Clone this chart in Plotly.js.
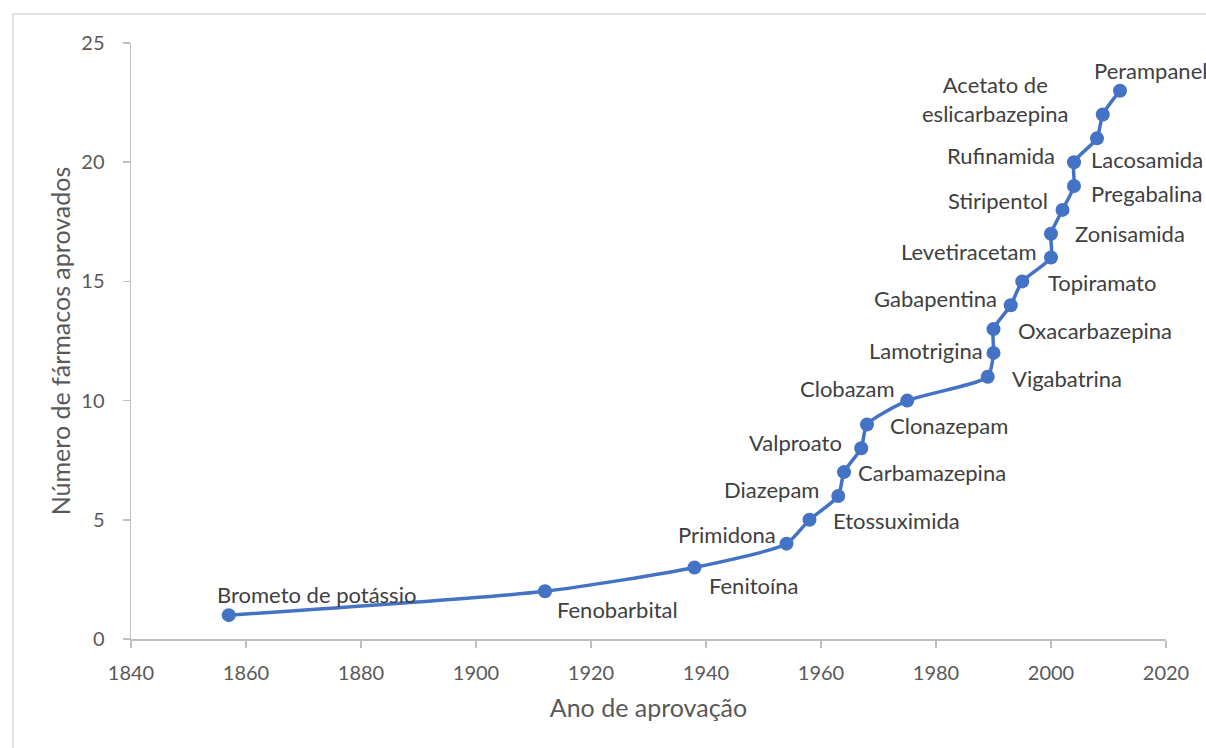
<!DOCTYPE html>
<html>
<head>
<meta charset="utf-8">
<script src="https://cdn.plot.ly/plotly-3.0.1.min.js"></script>
<style>html,body{margin:0;padding:0;background:#fff;}#chart{width:1206px;height:748px;}</style>
</head>
<body>
<div id="chart"></div>
<script>
// Data
const drugs = ["Brometo de potássio","Fenobarbital","Fenitoína","Primidona","Etossuximida","Diazepam","Carbamazepina","Valproato","Clonazepam","Clobazam","Vigabatrina","Lamotrigina","Oxacarbazepina","Gabapentina","Topiramato","Levetiracetam","Zonisamida","Stiripentol","Pregabalina","Rufinamida","Lacosamida","Acetato de<br>eslicarbazepina","Perampanel"];
const years = [1857,1912,1938,1954,1958,1963,1964,1967,1968,1975,1989,1990,1990,1993,1995,2000,2000,2002,2004,2004,2008,2009,2012];
const counts = [1,2,3,4,5,6,7,8,9,10,11,12,13,14,15,16,17,18,19,20,21,22,23];
const xTicks = [1840,1860,1880,1900,1920,1940,1960,1980,2000,2020];
const yTicks = [0,5,10,15,20,25];

// Label offsets in pixels (layout only)
const labelDx = [88,72,59,-60,87,-67,88,-66,82,-60,79,-68,101,-75,80,-82,79,-65,72,-73,50,-107,30];
const labelDy = [-21,18,18,-9,1,-6,0,-6,1,-12,2,-2,1,-7,1,-6,0,-9,7,-7,21,-16,-20];

const FONT = "Lato, 'Open Sans', sans-serif";

const annotations = drugs.map((d, i) => ({
  x: years[i], y: counts[i], xref: 'x', yref: 'y',
  text: d, showarrow: false, xanchor: 'center', yanchor: 'middle',
  xshift: labelDx[i], yshift: -labelDy[i],
  font: {family: FONT, size: 22, color: '#404040'}, align: 'center'
}));

const trace = {
  x: years, y: counts, type: 'scatter', mode: 'lines+markers',
  line: {color: '#4472C4', width: 3.5, shape: 'spline', smoothing: 0.6},
  marker: {color: '#4472C4', size: 14},
  hoverinfo: 'x+y'
};

const layout = {
  width: 1206, height: 748,
  margin: {l: 131, r: 40, t: 43, b: 109},
  paper_bgcolor: '#ffffff', plot_bgcolor: '#ffffff',
  showlegend: false,
  font: {family: FONT, color: '#595959'},
  xaxis: {
    range: [1840, 2020], tickmode: 'array', tickvals: xTicks,
    showgrid: false, zeroline: false, showline: true, linecolor: '#BFBFBF', linewidth: 1.5,
    ticks: 'outside', ticklen: 7, tickcolor: '#BFBFBF', tickwidth: 1.5,
    tickfont: {family: FONT, size: 20, color: '#595959'},
    ticklabelstandoff: 8,
    title: {text: 'Ano de aprovação', font: {family: FONT, size: 25, color: '#595959'}, standoff: 17}
  },
  yaxis: {
    range: [0, 25], tickmode: 'array', tickvals: yTicks,
    showgrid: false, zeroline: false, showline: true, linecolor: '#BFBFBF', linewidth: 1.5,
    ticks: 'outside', ticklen: 7, tickcolor: '#BFBFBF', tickwidth: 1.5,
    tickfont: {family: FONT, size: 20, color: '#595959'},
    ticklabelstandoff: 14,
    title: {text: 'Número de fármacos aprovados', font: {family: FONT, size: 25, color: '#595959'}, standoff: 3}
  },
  annotations: annotations,
  shapes: [{
    type: 'rect', xref: 'paper', yref: 'paper',
    x0: (13 - 131) / 1035, x1: 1.2, y0: -0.3, y1: (639 - 14) / 596,
    line: {color: '#D9D9D9', width: 1.5}, fillcolor: 'rgba(0,0,0,0)', layer: 'below'
  }]
};

Plotly.newPlot('chart', [trace], layout, {displayModeBar: false, staticPlot: true});
</script>
</body>
</html>
